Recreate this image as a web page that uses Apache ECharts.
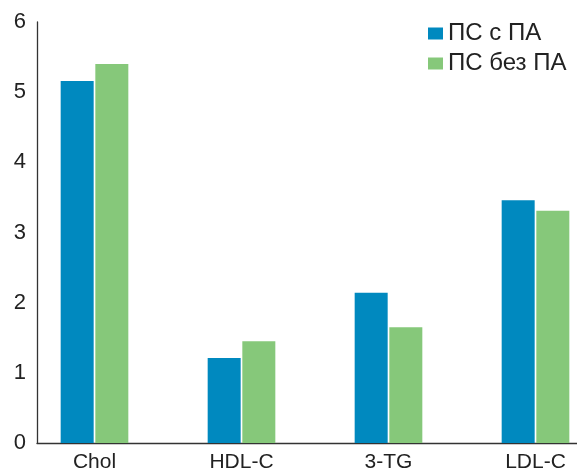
<!DOCTYPE html>
<html>
<head>
<meta charset="utf-8">
<script src="https://cdn.jsdelivr.net/npm/echarts@6/dist/echarts.min.js"></script>
<style>
  html, body { margin: 0; padding: 0; background: #fff; }
  #chart { width: 577px; height: 473px; }
</style>
</head>
<body>
<div id="chart"></div>
<script>
// Lipid profile: mean values for two patient groups
const categories = ['Chol', 'HDL-C', '3-TG', 'LDL-C'];
const withPA = [5.16, 1.21, 2.14, 3.46];
const withoutPA = [5.40, 1.45, 1.65, 3.31];
const seriesNames = ['ПС с ПА', 'ПС без ПА'];
const yTicks = [0, 1, 2, 3, 4, 5, 6];

const BLUE = '#0089BF';
const GREEN = '#86C87A';
const FONT = 'Liberation Sans, Arial, Helvetica, sans-serif';

const chart = echarts.init(document.getElementById('chart'), null, { renderer: 'canvas' });

const yMin = yTicks[0];
const yMax = yTicks[yTicks.length - 1];

chart.setOption({
  animation: false,
  backgroundColor: '#ffffff',
  legend: {
    orient: 'vertical',
    left: 423,
    top: 15,
    itemWidth: 15,
    itemHeight: 12,
    itemGap: 3,
    icon: 'rect',
    data: seriesNames,
    textStyle: { fontFamily: FONT, fontSize: 24, color: '#222', lineHeight: 27 }
  },
  grid: [
    // frame grid: holds the visible axes
    { left: 37, right: 0, top: 22, bottom: 30, outerBoundsMode: 'none' },
    // bar grid: wider category bands for the grouped bars
    { left: 21, right: -32, top: 22, bottom: 30, outerBoundsMode: 'none' }
  ],
  xAxis: [
    {
      gridIndex: 0,
      type: 'category',
      data: categories,
      axisLine: { show: true, lineStyle: { color: '#333', width: 1.3 } },
      axisTick: { show: false },
      axisLabel: { show: false }
    },
    {
      gridIndex: 1,
      type: 'category',
      data: categories,
      axisLine: { show: false },
      axisTick: { show: false },
      axisLabel: { fontFamily: FONT, fontSize: 21, color: '#222', margin: 9 }
    }
  ],
  yAxis: [
    {
      gridIndex: 0,
      type: 'value',
      min: yMin,
      max: yMax,
      interval: 1,
      axisLine: { show: true, lineStyle: { color: '#333', width: 1.3 } },
      axisTick: { show: false },
      splitLine: { show: false },
      axisLabel: { fontFamily: FONT, fontSize: 22, color: '#222', margin: 11 }
    },
    {
      gridIndex: 1,
      type: 'value',
      min: yMin,
      max: yMax,
      interval: 1,
      show: false,
      splitLine: { show: false }
    }
  ],
  series: [
    {
      name: seriesNames[0],
      type: 'bar',
      xAxisIndex: 1,
      yAxisIndex: 1,
      data: withPA,
      barWidth: 33,
      barGap: '5%',
      itemStyle: { color: BLUE }
    },
    {
      name: seriesNames[1],
      type: 'bar',
      xAxisIndex: 1,
      yAxisIndex: 1,
      data: withoutPA,
      barWidth: 33,
      barGap: '5%',
      itemStyle: { color: GREEN }
    }
  ]
});
</script>
</body>
</html>
